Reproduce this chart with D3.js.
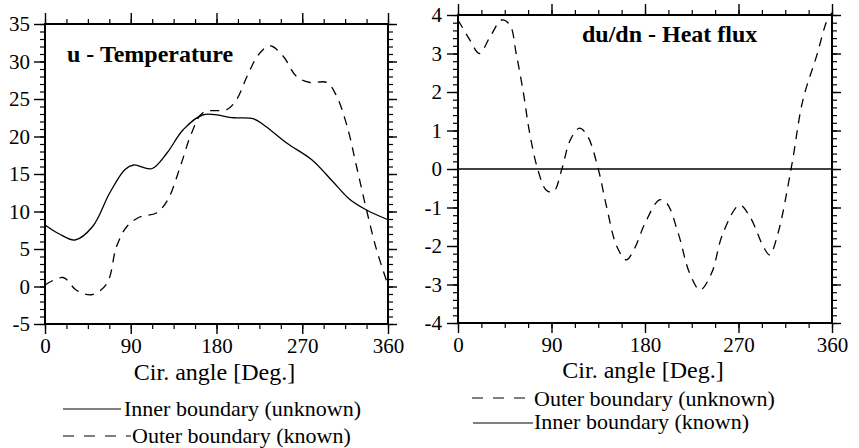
<!DOCTYPE html>
<html>
<head>
<meta charset="utf-8">
<script src="https://cdn.jsdelivr.net/npm/d3@7"></script>
<style>
  html, body { margin: 0; padding: 0; background: #fff; }
  svg { display: block; }
  svg text { font-family: "Liberation Serif", "DejaVu Serif", serif; fill: #000; }
</style>
</head>
<body>
<div id="chart"></div>
<script>
// 数据：数值
// 左图 u - Temperature
const tempInnerDeg = [0, 15, 31.5, 50, 68, 84, 93, 112, 128, 145, 166, 198, 219, 229, 254, 280, 302, 320, 337.5, 360];
const tempInnerVal = [8.2, 7.0, 6.2, 8.0, 12.5, 15.6, 16.2, 15.7, 17.8, 20.9, 22.9, 22.5, 22.35, 21.6, 19.1, 16.9, 14.0, 11.6, 10.2, 8.9];
const tempOuterDeg = [0, 19, 33, 49, 65, 75, 86, 100, 117, 129, 142, 154, 166, 191, 201, 212, 224, 236, 250, 264, 278, 296, 306, 317, 327, 337.5, 348, 360];
const tempOuterVal = [0.2, 1.2, -0.5, -1.1, 0.4, 5.3, 8.0, 9.3, 9.8, 11.6, 16.0, 20.5, 23.2, 23.6, 24.9, 28.0, 30.9, 32.1, 30.7, 28.0, 27.2, 27.2, 25.4, 21.4, 16.0, 10.2, 4.9, 0.2];

// 右图 du/dn - Heat flux
const fluxOuterDeg = [0, 11.5, 20.5, 31, 42, 50, 56, 63, 69, 77, 85, 92, 100, 108, 117, 125, 135, 143, 153, 162, 170, 180, 194, 201, 212, 223, 233, 244, 255, 271, 281, 294, 300, 308, 321, 332, 345, 356, 360];
const fluxOuterVal = [3.87, 3.35, 3.0, 3.44, 3.87, 3.74, 3.0, 1.97, 0.93, -0.03, -0.55, -0.59, 0, 0.75, 1.06, 0.84, 0, -0.98, -2.02, -2.36, -2.06, -1.41, -0.8, -0.89, -1.67, -2.71, -3.14, -2.71, -1.67, -0.94, -1.24, -2.02, -2.23, -1.67, 0.06, 1.79, 2.92, 3.91, 4.05];
const fluxInnerDeg = [0, 360];
const fluxInnerVal = [0, 0];

// 刻度
const angleTicks = [0, 90, 180, 270, 360];
const tempTicks = [-5, 0, 5, 10, 15, 20, 25, 30, 35];
const fluxTicks = [-4, -3, -2, -1, 0, 1, 2, 3, 4];

// 文字
const panelTitles = ['u - Temperature', 'du/dn - Heat flux'];
const xTitle = 'Cir. angle [Deg.]';
const tempLegend = ['Inner boundary (unknown)', 'Outer boundary (known)'];
const fluxLegend = ['Outer boundary (unknown)', 'Inner boundary (known)'];

const width = 859, height = 448;
const serif = '"Liberation Serif", "DejaVu Serif", serif';
const svg = d3.select('#chart').append('svg')
    .attr('width', width)
    .attr('height', height)
    .attr('font-family', serif);

const zip = (xs, ys) => xs.map((x, i) => ({ x, y: ys[i] }));
const fmt = d => String(d);   // 用普通连字符作负号

function drawPanel(opt) {
    const x = d3.scaleLinear().domain([0, 360]).range([opt.left, opt.right]);
    const y = d3.scaleLinear().domain(opt.yDomain).range([opt.bottom, opt.top]);
    const minorX = d3.range(0, 360.1, 22.5);
    const minorY = d3.range(opt.yDomain[0], opt.yDomain[1] + 1e-6, opt.yMinor);

    const g = svg.append('g');

    // 次刻度
    const minorAxes = [
        [d3.axisBottom(x).tickValues(minorX).tickSize(5), `translate(0,${opt.bottom})`],
        [d3.axisTop(x).tickValues(minorX).tickSize(5), `translate(0,${opt.top})`],
        [d3.axisLeft(y).tickValues(minorY).tickSize(5), `translate(${opt.left},0)`],
        [d3.axisRight(y).tickValues(minorY).tickSize(5), `translate(${opt.right},0)`]
    ];
    minorAxes.forEach(([ax, tr]) => {
        const a = g.append('g').attr('transform', tr)
            .call(ax.tickFormat('').tickSizeOuter(0));
        a.select('.domain').remove();
        a.selectAll('line').attr('stroke-width', 1.2);
    });

    // 主刻度
    const bottomAx = g.append('g').attr('transform', `translate(0,${opt.bottom})`)
        .call(d3.axisBottom(x).tickValues(angleTicks).tickSize(10).tickPadding(4).tickFormat(fmt).tickSizeOuter(0));
    const topAx = g.append('g').attr('transform', `translate(0,${opt.top})`)
        .call(d3.axisTop(x).tickValues(angleTicks).tickSize(11).tickFormat('').tickSizeOuter(0));
    const leftAx = g.append('g').attr('transform', `translate(${opt.left},0)`)
        .call(d3.axisLeft(y).tickValues(opt.yTicks).tickSize(11).tickPadding(opt.yPad).tickFormat(fmt).tickSizeOuter(0));
    const rightAx = g.append('g').attr('transform', `translate(${opt.right},0)`)
        .call(d3.axisRight(y).tickValues(opt.yTicks).tickSize(9).tickFormat('').tickSizeOuter(0));

    [bottomAx, topAx, leftAx, rightAx].forEach(a => {
        a.attr('font-family', serif).attr('font-size', 21);
        a.select('.domain').remove();
        a.selectAll('line').attr('stroke-width', 1.4);
    });

    // 边框
    g.append('rect')
        .attr('x', opt.left).attr('y', opt.top)
        .attr('width', opt.right - opt.left).attr('height', opt.bottom - opt.top)
        .attr('fill', 'none').attr('stroke', '#000').attr('stroke-width', 2);

    // 曲线
    const line = d3.line()
        .x(d => x(d.x))
        .y(d => y(d.y))
        .curve(d3.curveCatmullRom.alpha(0.5));

    opt.series.forEach(s => {
        g.append('path')
            .datum(zip(s.deg, s.val))
            .attr('fill', 'none')
            .attr('stroke', '#000')
            .attr('stroke-width', 1.3)
            .attr('stroke-dasharray', s.dashed ? '9,7' : null)
            .attr('d', line);
    });

    // 标题
    g.append('text')
        .attr('x', opt.titleX).attr('y', opt.titleY)
        .attr('font-size', 24).attr('font-weight', 'bold')
        .text(opt.title);

    g.append('text')
        .attr('x', (opt.left + opt.right) / 2 - 2).attr('y', opt.xTitleY)
        .attr('text-anchor', 'middle')
        .attr('font-size', 24)
        .text(xTitle);

    // 图例
    opt.legend.forEach((lg, i) => {
        g.append('line')
            .attr('x1', lg.x1).attr('x2', lg.x2)
            .attr('y1', lg.ly).attr('y2', lg.ly)
            .attr('stroke', '#000').attr('stroke-width', 1.2)
            .attr('stroke-dasharray', lg.dashed ? '11,10' : null);
        g.append('text')
            .attr('x', lg.tx).attr('y', lg.ty)
            .attr('font-size', 22)
            .text(opt.legendLabels[i]);
    });
}

drawPanel({
    left: 45, right: 388, top: 24, bottom: 324,
    yDomain: [-5, 35], yTicks: tempTicks, yMinor: 1, yPad: 4,
    title: panelTitles[0], titleX: 67, titleY: 62, xTitleY: 380,
    series: [
        { deg: tempInnerDeg, val: tempInnerVal, dashed: false },
        { deg: tempOuterDeg, val: tempOuterVal, dashed: true }
    ],
    legendLabels: tempLegend,
    legend: [
        { x1: 63, x2: 121, ly: 409, tx: 124, ty: 416, dashed: false },
        { x1: 63, x2: 131, ly: 436, tx: 132, ty: 443, dashed: true }
    ]
});

drawPanel({
    left: 458, right: 832, top: 15, bottom: 323,
    yDomain: [-4, 4], yTicks: fluxTicks, yMinor: 0.2, yPad: 5,
    title: panelTitles[1], titleX: 582, titleY: 42, xTitleY: 378,
    series: [
        { deg: fluxInnerDeg, val: fluxInnerVal, dashed: false },
        { deg: fluxOuterDeg, val: fluxOuterVal, dashed: true }
    ],
    legendLabels: fluxLegend,
    legend: [
        { x1: 472, x2: 533, ly: 398, tx: 534, ty: 406, dashed: true },
        { x1: 473, x2: 533, ly: 423, tx: 534, ty: 429, dashed: false }
    ]
});
</script>
</body>
</html>
